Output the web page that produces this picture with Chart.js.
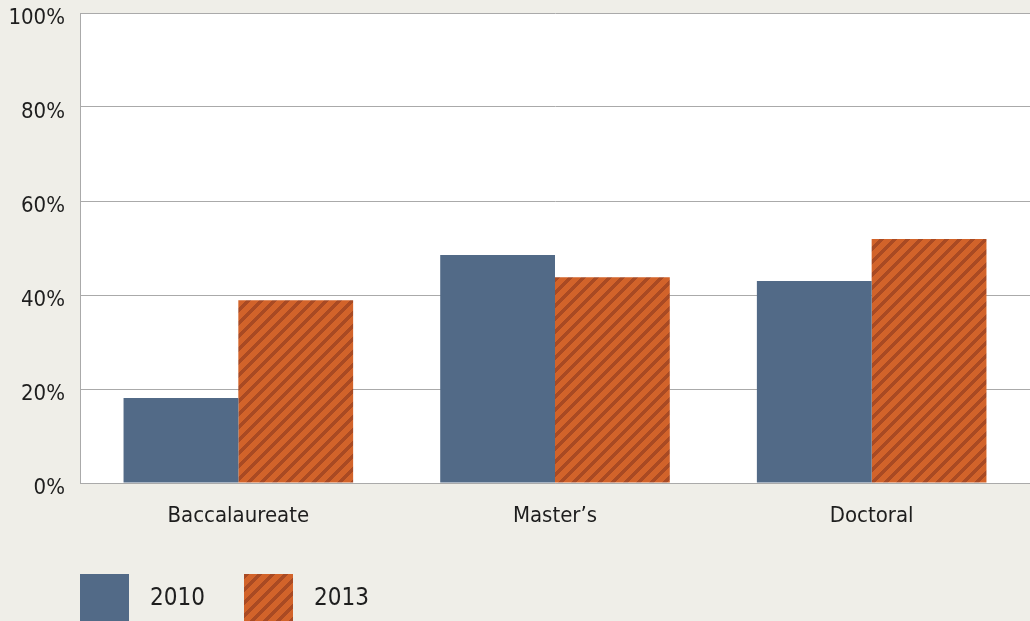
<!DOCTYPE html>
<html>
<head>
<meta charset="utf-8">
<script src="https://cdn.jsdelivr.net/npm/chart.js@4"></script>
<style>
  html, body { margin: 0; padding: 0; background: #efeee8; }
  #wrap { position: relative; width: 1030px; height: 621px; overflow: hidden; }
  #chart { position: absolute; left: 0; top: 0; }
  .leg { position: absolute; top: 574px; height: 47px; width: 49px; }
  .legtxt { position: absolute; top: 583px; font: 24px 'Liberation Sans Narrow', 'DejaVu Sans Condensed', sans-serif; color: #1e1e1e; }
</style>
</head>
<body>
<div id="wrap">
  <canvas id="chart" width="1030" height="621"></canvas>
  <div class="leg" style="left:80px;background:#526a87"></div>
  <div class="legtxt" style="left:150px">2010</div>
  <div class="leg" id="hatchBox" style="left:244px"></div>
  <div class="legtxt" style="left:314px">2013</div>
</div>
<script>
const categories = ['Baccalaureate', 'Master\u2019s', 'Doctoral'];
const seriesNames = ['2010', '2013'];
const values2010 = [18.1, 48.5, 43.0];
const values2013 = [38.9, 43.8, 51.9];
const yTicks = [0, 20, 40, 60, 80, 100];

const fontFamily = "'Liberation Sans Narrow', 'DejaVu Sans Condensed', sans-serif";

// diagonal "/" stripes, built pixel by pixel so the tile is seamless
function makeHatch() {
    const size = 13;
    const dark = 5;
    const c = document.createElement('canvas');
    c.width = size;
    c.height = size;
    const g = c.getContext('2d');
    for (let y = 0; y < size; y++) {
        for (let x = 0; x < size; x++) {
            g.fillStyle = ((x + y) % size) < dark ? '#a94a23' : '#d2632a';
            g.fillRect(x, y, 1, 1);
        }
    }
    return c;
}

const hatchCanvas = makeHatch();
const ctx = document.getElementById('chart').getContext('2d');
const hatch = ctx.createPattern(hatchCanvas, 'repeat');
document.getElementById('hatchBox').style.background = 'url(' + hatchCanvas.toDataURL() + ')';

const plotBg = {
    id: 'plotBg',
    beforeDraw(chart) {
        const a = chart.chartArea;
        chart.ctx.save();
        chart.ctx.fillStyle = '#ffffff';
        chart.ctx.fillRect(a.left, a.top, a.right - a.left, a.bottom - a.top);
        chart.ctx.restore();
    }
};

new Chart(ctx, {
    type: 'bar',
    data: {
        labels: categories,
        datasets: [
            { label: seriesNames[0], data: values2010, backgroundColor: '#526a87' },
            { label: seriesNames[1], data: values2013, backgroundColor: hatch }
        ]
    },
    options: {
        responsive: false,
        animation: false,
        layout: { padding: { top: 13, right: 0, left: 0, bottom: 0 } },
        categoryPercentage: 0.725,
        barPercentage: 1.0,
        plugins: {
            legend: { display: false },
            tooltip: { enabled: false }
        },
        scales: {
            x: {
                grid: { display: false, drawTicks: false },
                border: { color: '#aaaaaa', width: 1 },
                ticks: { color: '#1e1e1e', padding: 20, font: { family: fontFamily, size: 22 } },
                afterFit(scale) {
                    scale.height = 138;
                    scale.paddingLeft = 0;
                    scale.paddingRight = 0;
                }
            },
            y: {
                min: 0,
                max: 100,
                afterBuildTicks(scale) { scale.ticks = yTicks.map(v => ({ value: v })); },
                grid: { color: '#aaaaaa', lineWidth: 1, drawTicks: false },
                border: { color: '#aaaaaa', width: 1 },
                ticks: {
                    color: '#1e1e1e',
                    padding: 15,
                    // empty first line pushes the label a little below its grid line, as in the original
                    font: { family: fontFamily, size: 22, lineHeight: 0.45 },
                    callback: v => ['', v + '%']
                },
                afterFit(scale) {
                    scale.width = 80;
                    scale.paddingTop = 0;
                    scale.paddingBottom = 0;
                }
            }
        }
    },
    plugins: [plotBg]
});
</script>
</body>
</html>
